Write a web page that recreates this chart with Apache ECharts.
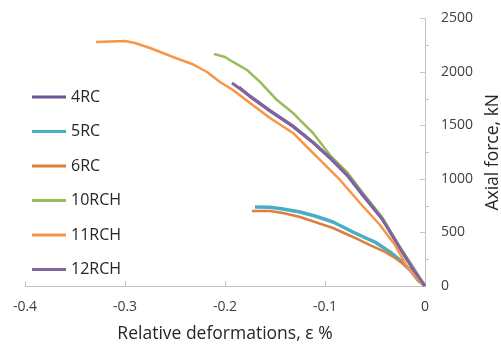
<!DOCTYPE html>
<html>
<head>
<meta charset="utf-8">
<script src="https://cdn.jsdelivr.net/npm/echarts@6/dist/echarts.min.js"></script>
<style>
  html, body { margin: 0; padding: 0; background: #fff; }
  #chart { width: 501px; height: 346px; }
</style>
</head>
<body>
<div id="chart"></div>
<script>
// Relative deformation (%) and axial force (kN) for each specimen
const seriesNames = ['4RC', '5RC', '6RC', '10RCH', '11RCH', '12RCH'];

const strain4RC = [-0.186, -0.175, -0.155, -0.132, -0.112, -0.095, -0.078, -0.062, -0.043, -0.025, -0.010, 0];
const force4RC  = [1858, 1770, 1636, 1490, 1340, 1196, 1036, 846, 628, 352, 130, 0];

const strain5RC = [-0.170, -0.155, -0.142, -0.125, -0.110, -0.092, -0.072, -0.055, -0.050, -0.035, -0.025, -0.015, -0.007, 0];
const force5RC  = [738, 736, 720, 692, 654, 598, 505, 430, 411, 318, 243, 150, 56, 0];

const strain6RC = [-0.173, -0.155, -0.142, -0.125, -0.110, -0.092, -0.072, -0.055, -0.040, -0.030, -0.023, -0.015, -0.007, 0];
const force6RC  = [701, 701, 682, 645, 598, 542, 458, 383, 318, 262, 215, 150, 56, 0];

const strain10RCH = [-0.211, -0.200, -0.192, -0.178, -0.165, -0.148, -0.132, -0.125, -0.112, -0.095, -0.078, -0.062, -0.043, -0.025, -0.010, 0];
const force10RCH  = [2168, 2140, 2094, 2019, 1907, 1738, 1617, 1551, 1430, 1224, 1065, 869, 645, 364, 150, 0];

const strain11RCH = [-0.329, -0.300, -0.290, -0.275, -0.252, -0.233, -0.218, -0.205, -0.192, -0.175, -0.155, -0.132, -0.118, -0.105, -0.085, -0.065, -0.045, -0.030, -0.017, -0.008, 0];
const force11RCH  = [2280, 2290, 2271, 2224, 2140, 2075, 2000, 1907, 1832, 1710, 1570, 1430, 1299, 1178, 991, 776, 570, 383, 168, 75, 0];

const strain12RCH = [-0.193, -0.175, -0.155, -0.132, -0.112, -0.095, -0.078, -0.062, -0.043, -0.025, -0.010, 0];
const force12RCH  = [1897, 1776, 1640, 1495, 1345, 1200, 1040, 850, 630, 355, 131, 0];

const xTicks = [-0.4, -0.3, -0.2, -0.1, 0];
const yTicks = [0, 500, 1000, 1500, 2000, 2500];

const strains = [strain4RC, strain5RC, strain6RC, strain10RCH, strain11RCH, strain12RCH];
const forces  = [force4RC, force5RC, force6RC, force10RCH, force11RCH, force12RCH];
const colors  = ['#6a5592', '#4bacc6', '#dc7f3c', '#9bbb59', '#f79646', '#8064a2'];
const widths  = [3, 3.5, 2.5, 2.5, 2.5, 3];

const font = '"Open Sans", "DejaVu Sans", sans-serif';

const chart = echarts.init(document.getElementById('chart'), null, { renderer: 'canvas' });

const series = seriesNames.map((name, i) => ({
  name: name,
  type: 'line',
  xAxisIndex: 0,
  yAxisIndex: 0,
  symbol: 'none',
  showSymbol: false,
  smooth: false,
  animation: false,
  lineStyle: { color: colors[i], width: widths[i] },
  itemStyle: { color: colors[i] },
  data: strains[i].map((x, k) => [x, forces[i][k]])
}));

chart.setOption({
  backgroundColor: '#ffffff',
  animation: false,
  grid: { left: 25, right: 76, top: 18.5, bottom: 60, containLabel: false, outerBoundsMode: 'none' },
  legend: {
    orient: 'vertical',
    left: 27,
    top: 84,
    icon: 'rect',
    itemWidth: 34,
    itemHeight: 3,
    itemGap: 18.5,
    textStyle: { fontFamily: font, fontSize: 16, color: '#262626' },
    data: seriesNames
  },
  xAxis: {
    type: 'value',
    min: -0.4,
    max: 0,
    interval: 0.1,
    name: 'Relative deformations, ε %',
    nameLocation: 'middle',
    nameGap: 39,
    nameTextStyle: { fontFamily: font, fontSize: 17.5, color: '#262626' },
    axisLine: { show: true, onZero: false, lineStyle: { color: '#c4c4c4', width: 1 } },
    axisTick: { show: true, inside: true, length: 5, lineStyle: { color: '#c4c4c4' } },
    axisLabel: {
      fontFamily: font, fontSize: 14, color: '#404040', margin: 14,
      formatter: v => (xTicks.some(t => Math.abs(t - v) < 1e-9) ? String(Math.round(v * 10) / 10) : '')
    },
    splitLine: { show: false }
  },
  yAxis: [{
    type: 'value',
    position: 'right',
    min: 0,
    max: 2500,
    interval: 500,
    name: 'Axial force, kN',
    nameLocation: 'middle',
    nameRotate: 90,
    nameGap: 54,
    nameTextStyle: { fontFamily: font, fontSize: 17.5, color: '#262626' },
    axisLine: { show: true, onZero: false, lineStyle: { color: '#c4c4c4', width: 1 } },
    axisTick: { show: true, inside: true, length: 5, lineStyle: { color: '#c4c4c4' } },
    axisLabel: {
      fontFamily: font, fontSize: 14, color: '#404040', margin: 16,
      formatter: v => (yTicks.includes(v) ? String(v) : '')
    },
    splitLine: { show: false }
  }, {
    type: 'value',
    position: 'right',
    min: 0,
    max: 2500,
    interval: 500,
    axisLine: { show: false },
    axisTick: { show: false, inside: false },
    minorTick: { show: true, splitNumber: 2, length: 4, lineStyle: { color: '#c4c4c4' } },
    axisLabel: { show: false },
    splitLine: { show: false }
  }],
  series: series
});
</script>
</body>
</html>
